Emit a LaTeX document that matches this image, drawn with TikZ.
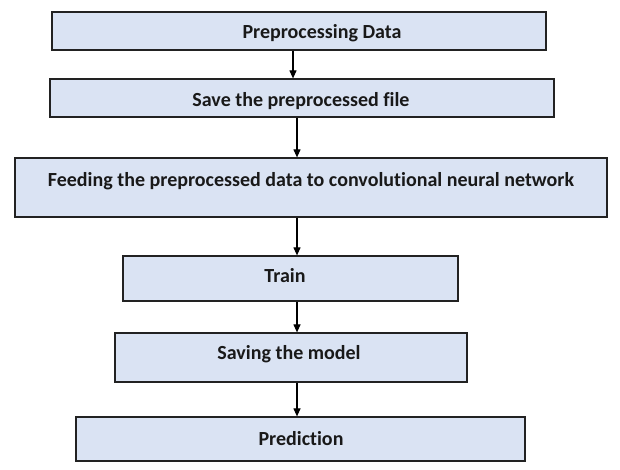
\documentclass[tikz,border=0pt]{standalone}
\usepackage{fontspec}
\setmainfont{Carlito}[Ligatures=NoCommon]
\usetikzlibrary{arrows.meta}
\definecolor{boxfill}{HTML}{DAE3F3}
\definecolor{boxline}{HTML}{222222}
\begin{document}
\begin{tikzpicture}[x=1pt,y=-1pt,
  box/.style={draw=boxline,fill=boxfill,line width=1.2pt,inner sep=0pt,minimum width=#1},
  lbl/.style={inner sep=0pt,font=\bfseries\fontsize{20}{24}\selectfont,text=black!90},
  arr/.style={draw=black,line width=1.1pt,-{Triangle[length=8pt,width=7pt]}}]
\useasboundingbox[fill=white] (0,0) rectangle (620,470);
\node[box=494pt,minimum height=38pt] (b1) at (299,31) {};
\node[box=504pt,minimum height=38pt] (b2) at (302,98) {};
\node[box=592pt,minimum height=59pt] (b3) at (311,187.5) {};
\node[box=335pt,minimum height=45pt] (b4) at (290.5,278.5) {};
\node[box=352pt,minimum height=49pt] (b5) at (291,357.5) {};
\node[box=449pt,minimum height=44pt] (b6) at (300.5,439) {};
\node[lbl] (t1) at (322,33) {Preprocessing Data};
\node[lbl] (t2) at (301,101) {Save the preprocessed file};
\node[lbl] (t3) at (311,181) {Feeding the preprocessed data to convolutional neural network};
\node[lbl] (t4) at (285,276) {Train};
\node[lbl] (t5) at (289,354) {Saving the model};
\node[lbl] (t6) at (301,439) {Prediction};
\draw[arr] ([xshift=-6pt]b1.south) -- ([xshift=-6pt]b1.south |- b2.north);
\draw[arr] ([xshift=-5pt]b2.south) -- ([xshift=-5pt]b2.south |- b3.north);
\draw[arr] ([xshift=-14pt]b3.south) -- ([xshift=-14pt]b3.south |- b4.north);
\draw[arr] ([xshift=6.5pt]b4.south) -- ([xshift=6.5pt]b4.south |- b5.north);
\draw[arr] ([xshift=6pt]b5.south) -- ([xshift=6pt]b5.south |- b6.north);
\end{tikzpicture}
\end{document}
